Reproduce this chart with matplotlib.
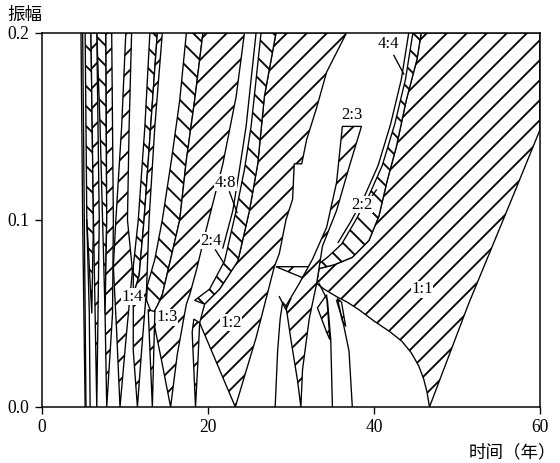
import numpy as np
import matplotlib.pyplot as plt
from matplotlib.patches import Polygon

plt.rcParams['font.family'] = ['Liberation Serif', 'Noto Sans CJK SC']
plt.rcParams['hatch.linewidth'] = 1.1

# ---------------------------------------------------------------
# locking regions: boundary points (time in years, amplitude)

# 1:1 tongue
t11_x = [46.7, 51.4, 56.6, 60.0, 60.0, 45.7, 45.2, 43.9, 42.7, 41.6, 40.6, 39.4, 37.4, 35.2, 33.4,
         33.1, 34.0, 35.5, 36.8, 38.2, 40.0, 42.0, 43.4, 44.5, 45.4, 46.0, 46.4]
t11_y = [0.0, 0.055, 0.111, 0.148, 0.2, 0.2, 0.186, 0.164, 0.139, 0.121, 0.102, 0.089, 0.080, 0.076, 0.074,
         0.066, 0.063, 0.059, 0.056, 0.052, 0.046, 0.040, 0.035, 0.029, 0.022, 0.015, 0.008]
# 2:2 / 4:4 band
b22_x = [44.7, 43.8, 42.5, 41.0, 39.4, 37.7, 36.1, 34.4, 32.9, 33.4, 35.2, 37.4, 39.4, 40.6, 41.6, 42.7, 43.9, 45.2, 45.7]
b22_y = [0.2, 0.175, 0.151, 0.129, 0.113, 0.099, 0.087, 0.080, 0.075, 0.074, 0.076, 0.080, 0.089, 0.102, 0.121, 0.139, 0.164, 0.186, 0.2]
l44_x = [44.2, 43.3, 42.0, 40.5, 38.9, 37.2, 35.7]
l44_y = [0.2, 0.175, 0.151, 0.129, 0.113, 0.099, 0.088]
# 2:3 tongue
t23_x = [36.2, 38.5, 37.0, 35.5, 33.8, 33.1, 32.2, 31.4, 31.2, 30.8, 30.0, 29.4, 31.0, 32.6, 34.3, 35.5]
t23_y = [0.150, 0.150, 0.128, 0.105, 0.086, 0.066, 0.047, 0.020, 0.0, 0.014, 0.036, 0.054, 0.066, 0.079, 0.096, 0.120]
tri_x = [28.2, 32.8, 33.1]
tri_y = [0.075, 0.075, 0.066]
# 1:2 tongue and 2:4 band
t12_x = [23.3, 21.2, 19.0, 19.6, 21.4, 23.6, 25.0, 26.0, 26.8, 28.2, 36.7, 34.3, 33.1, 31.9, 31.3, 30.4, 30.2, 29.4, 28.6, 28.0, 25.8]
t12_y = [0.0, 0.022, 0.045, 0.055, 0.063, 0.078, 0.105, 0.130, 0.166, 0.2, 0.2, 0.179, 0.160, 0.143, 0.130, 0.130, 0.111, 0.100, 0.082, 0.075, 0.037]
b24_x = [26.4, 25.2, 24.4, 23.4, 22.0, 20.2, 18.4, 19.6, 21.4, 23.6, 25.0, 26.0, 26.8, 28.2]
b24_y = [0.2, 0.150, 0.127, 0.105, 0.078, 0.063, 0.057, 0.055, 0.063, 0.078, 0.105, 0.130, 0.166, 0.2]
l48_x = [25.8, 24.6, 23.8, 23.0, 21.8]
l48_y = [0.2, 0.150, 0.127, 0.105, 0.085]
s25_x = [18.5, 18.1, 18.3, 19.0, 18.8]
s25_y = [0.0, 0.040, 0.047, 0.045, 0.025]
# 1:3 tongue and 2:6 band
t13_x = [19.4, 24.4, 23.4, 21.8, 19.8, 18.6, 17.8, 17.4, 16.3, 15.5, 14.4, 13.3, 14.0, 14.5, 15.4, 16.6, 17.4, 18.4]
t13_y = [0.2, 0.2, 0.166, 0.130, 0.095, 0.073, 0.060, 0.055, 0.028, 0.0, 0.025, 0.049, 0.055, 0.060, 0.077, 0.100, 0.132, 0.164]
b26_x = [17.4, 16.6, 15.6, 14.5, 13.6, 12.7, 12.6, 13.3, 14.0, 14.5, 15.4, 16.6, 17.4, 18.4, 19.4]
b26_y = [0.2, 0.164, 0.132, 0.100, 0.079, 0.065, 0.057, 0.049, 0.055, 0.060, 0.077, 0.100, 0.132, 0.164, 0.2]
s27_x = [12.8, 13.6, 13.3]
s27_y = [0.052, 0.051, 0.0]
# 1:4 tongue and 2:8 band
t14_x = [11.5, 12.0, 12.6, 12.9, 13.6, 14.5, 13.9, 13.1, 12.3, 11.7, 11.0, 11.0]
t14_y = [0.0, 0.030, 0.063, 0.100, 0.150, 0.2, 0.2, 0.150, 0.100, 0.070, 0.060, 0.030]
b28_x = [13.9, 13.1, 12.3, 11.7, 11.0, 11.0, 11.6, 12.4, 13.0]
b28_y = [0.2, 0.150, 0.100, 0.070, 0.060, 0.075, 0.100, 0.150, 0.2]
# 1:5 ... 1:9
t15_x = [9.4, 9.0, 8.6, 8.9, 9.6, 10.1, 10.8, 10.5, 10.3, 10.9, 10.2]
t15_y = [0.0, 0.040, 0.075, 0.100, 0.150, 0.2, 0.2, 0.150, 0.100, 0.073, 0.040]
t16_x = [7.8, 8.5, 8.6, 8.4, 7.7, 7.8, 7.6]
t16_y = [0.0, 0.050, 0.100, 0.2, 0.2, 0.100, 0.050]
b212_x = [6.6, 7.7, 7.8, 7.6, 7.3, 7.0]
b212_y = [0.2, 0.2, 0.100, 0.050, 0.100, 0.150]
t17_x = [6.6, 6.9, 6.6, 5.9, 6.2]
t17_y = [0.0, 0.100, 0.2, 0.2, 0.100]
b214_x = [5.9, 6.2, 6.0, 5.4, 5.2]
b214_y = [0.2, 0.100, 0.050, 0.100, 0.2]
l18_x = [5.8, 5.7, 5.4]
l18_y = [0.0, 0.050, 0.100]
l19a_x = [5.2, 4.9, 4.7]
l19a_y = [0.0, 0.1, 0.2]
l19b_x = [5.3, 5.1, 4.9]
l19b_y = [0.0, 0.1, 0.2]
# small tongues under the 1:1 arc
arch28_x = [28.1, 28.4, 28.7, 29.0, 29.4]
arch28_y = [0.0, 0.030, 0.047, 0.056, 0.054]
ear28_x = [28.6, 29.4, 30.0]
ear28_y = [0.059, 0.052, 0.058]
l35_x = [35.0, 34.8, 34.4, 33.4]
l35_y = [0.0, 0.036, 0.057, 0.066]
s35_x = [33.2, 34.3, 34.7, 34.3]
s35_y = [0.053, 0.060, 0.036, 0.040]
l37_x = [37.4, 37.0, 36.2, 35.5]
l37_y = [0.0, 0.030, 0.047, 0.057]
s37_x = [35.6, 36.1, 36.6, 36.2]
s37_y = [0.058, 0.056, 0.043, 0.046]

# labels
lab_text = ['1:4', '1:3', '1:2', '2:4', '4:8', '2:3', '2:2', '4:4', '1:1']
lab_x = [10.9, 15.1, 22.8, 20.4, 22.1, 37.4, 38.6, 41.8, 45.8]
lab_y = [0.059, 0.048, 0.045, 0.089, 0.120, 0.156, 0.108, 0.194, 0.063]

# ---------------------------------------------------------------

fig = plt.figure(figsize=(560 / 120, 463 / 120), dpi=120)
ax = fig.add_axes([0.075, 0.121, 0.889, 0.808])


def region(xs, ys, hatch):
    ax.add_patch(Polygon(np.column_stack([xs, ys]), closed=True, facecolor='white',
                         edgecolor='black', hatch=hatch, lw=0.8))


def line(xs, ys):
    ax.plot(xs, ys, color='black', lw=0.8)


region(t11_x, t11_y, '//')
region(b22_x, b22_y, '\\\\')
region(t12_x, t12_y, '//')
region(b24_x, b24_y, '\\\\')
region(tri_x, tri_y, '//')
region(t23_x, t23_y, '//')
region(s25_x, s25_y, '//')
region(b26_x, b26_y, '\\\\')
region(t13_x, t13_y, '//')
region(s27_x, s27_y, '//')
region(t15_x, t15_y, '//')
region(b28_x, b28_y, '\\\\')
region(t14_x, t14_y, '//')
region(b212_x, b212_y, '\\\\')
region(t16_x, t16_y, '//')
region(b214_x, b214_y, '\\\\')
region(t17_x, t17_y, '//')
region(s35_x, s35_y, '//')
region(s37_x, s37_y, '//')

for xs, ys in [(l44_x, l44_y), (l48_x, l48_y), (l18_x, l18_y), (l19a_x, l19a_y),
               (l19b_x, l19b_y), (arch28_x, arch28_y), (ear28_x, ear28_y),
               (l35_x, l35_y), (l37_x, l37_y)]:
    line(xs, ys)

for t, x, y in zip(lab_text, lab_x, lab_y):
    ax.text(x, y, t, ha='center', va='center', fontsize=10,
            bbox=dict(facecolor='white', edgecolor='none', pad=0.3))

# leader lines
line([22.6, 23.5], [0.115, 0.104])
line([20.9, 21.9], [0.084, 0.077])
line([42.4, 43.6], [0.188, 0.178])
line([39.5, 40.3], [0.111, 0.116])

ax.set_xlim(0, 60)
ax.set_ylim(0, 0.2)
ax.set_xticks([0, 20, 40, 60])
ax.set_yticks([0, 0.1, 0.2])
ax.set_yticklabels(['0.0', '0.1', '0.2'])
ax.tick_params(direction='out', length=4, width=0.8, labelsize=10.5)
for s in ax.spines.values():
    s.set_linewidth(0.9)

fig.text(25 / 560, 1 - 15 / 463, '振幅', ha='center', va='center', fontsize=10.5,
         family=['Noto Sans CJK SC'])
fig.text(556 / 560, 1 - 452 / 463, '时间（年）', ha='right', va='center', fontsize=10.5,
         family=['Noto Sans CJK SC'])

fig.savefig('out.png', dpi=120)
